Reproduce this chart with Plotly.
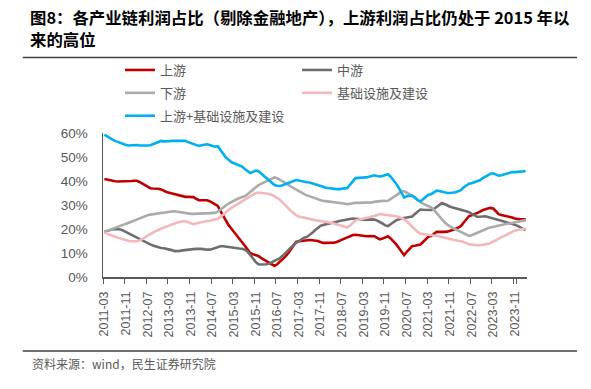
import plotly.graph_objects as go

# ---------------- data (monthly, 2011-03 .. 2024-03) ----------------
START_YEAR, START_MONTH, N_POINTS = 2011, 3, 157
months = []
y, m = START_YEAR, START_MONTH
for _ in range(N_POINTS):
    months.append(f"{y}-{m:02d}")
    m += 1
    if m > 12:
        m = 1
        y += 1

tick_labels = ["2011-03", "2011-11", "2012-07", "2013-03", "2013-11", "2014-07",
               "2015-03", "2015-11", "2016-07", "2017-03", "2017-11", "2018-07",
               "2019-03", "2019-11", "2020-07", "2021-03", "2021-11", "2022-07",
               "2023-03", "2023-11"]
y_ticks = [0, 10, 20, 30, 40, 50, 60]
y_tick_text = ["0%", "10%", "20%", "30%", "40%", "50%", "60%"]

upstream = [
    40.8, 40.5, 40.3, 40.0, 39.9, 39.8, 39.8, 39.7, 39.7, 39.8,
    40.0, 40.1, 40.1, 39.6, 39.0, 38.3, 37.6, 37.0, 36.9, 36.9, 36.8, 36.5,
    35.9, 35.4, 35.1, 34.8, 34.4, 34.1, 33.9, 33.7, 33.4, 33.4, 33.5, 33.3,
    32.6, 32.0, 32.0, 32.1, 32.0, 31.6, 30.9, 30.3, 29.6, 27.5, 25.5, 23.5,
    21.6, 20.2, 18.8, 17.5, 16.2, 14.8, 13.0, 11.5, 10.0, 9.5, 9.2, 8.8,
    8.0, 7.3, 6.6, 5.8, 5.0, 4.6, 5.3, 6.3, 7.4, 8.5, 9.8, 11.4,
    13.0, 14.6, 14.9, 15.1, 15.3, 15.3, 15.4, 15.3, 15.3, 15.0, 14.6, 14.2,
    14.2, 14.2, 14.2, 14.3, 14.6, 15.0, 15.5, 16.0, 16.5, 17.0, 17.5, 17.6,
    17.4, 17.2, 17.0, 17.0, 17.1, 17.2, 17.0, 16.3, 15.7, 16.0, 16.6, 17.0,
    16.1, 15.0, 13.7, 12.2, 10.6, 9.1, 10.5, 11.9, 12.9, 13.0, 13.2, 13.5,
    14.6, 15.8, 16.8, 17.1, 17.9, 18.8, 18.8, 18.7, 18.8, 18.9, 19.2, 19.5,
    20.0, 20.6, 21.2, 22.6, 24.0, 25.3, 25.7, 26.1, 26.5, 27.1, 27.8, 28.3,
    28.5, 28.8, 28.6, 27.4, 26.2, 25.8, 25.6, 25.3, 25.1, 24.8, 24.4, 24.1,
    24.0, 24.0, 24.0,
]

midstream = [
    18.8, 19.2, 19.6, 19.9, 20.0, 20.0, 19.8, 19.3, 18.7, 18.1,
    17.5, 17.0, 16.5, 16.0, 15.4, 14.8, 14.2, 13.6, 13.1, 12.7, 12.4, 12.1,
    12.0, 11.8, 11.6, 11.2, 10.8, 10.7, 10.9, 11.1, 11.3, 11.4, 11.5, 11.6,
    11.7, 11.8, 11.7, 11.5, 11.4, 11.4, 11.7, 12.1, 12.5, 12.8, 12.8, 12.6,
    12.4, 12.3, 12.2, 12.0, 11.9, 11.8, 11.4, 10.6, 9.4, 7.8, 6.3, 5.3,
    5.2, 5.2, 5.3, 5.6, 6.1, 6.7, 7.3, 7.9, 8.8, 10.0, 11.2, 12.3,
    13.3, 14.2, 15.0, 15.8, 16.4, 16.7, 17.4, 18.4, 19.5, 20.5, 21.3, 21.7,
    21.9, 22.1, 22.4, 22.7, 23.0, 23.3, 23.6, 23.7, 23.9, 24.2, 24.4, 24.3,
    24.1, 23.9, 23.8, 23.8, 24.0, 24.0, 23.9, 23.5, 23.0, 22.3, 21.5, 21.2,
    22.0, 22.9, 23.6, 24.0, 24.4, 24.6, 24.8, 25.0, 25.2, 26.3, 27.4, 28.1,
    28.0, 27.9, 27.8, 27.9, 28.3, 29.0, 30.0, 30.8, 30.5, 29.9, 29.3, 29.0,
    28.7, 28.5, 28.3, 27.9, 27.4, 27.0, 26.4, 25.7, 25.1, 25.1, 25.3, 25.3,
    25.0, 24.6, 24.3, 24.1, 23.8, 23.5, 23.2, 22.9, 22.6, 22.2, 21.8, 21.3,
    20.7, 20.1, 19.5,
]

downstream = [
    18.8, 19.2, 19.6, 19.9, 20.3, 20.7, 21.1, 21.6, 22.1, 22.6,
    23.0, 23.5, 24.0, 24.5, 24.9, 25.3, 25.7, 26.0, 26.2, 26.3, 26.4, 26.5,
    26.7, 26.9, 27.1, 27.3, 27.4, 27.2, 26.9, 26.6, 26.4, 26.3, 26.3, 26.3,
    26.3, 26.4, 26.5, 26.5, 26.6, 26.6, 26.7, 26.7, 27.2, 28.2, 29.0, 29.8,
    30.6, 31.3, 31.9, 32.4, 32.9, 33.2, 33.6, 34.5, 35.5, 36.5, 37.4, 38.2,
    38.8, 39.4, 40.0, 40.5, 41.0, 41.5, 41.2, 40.6, 40.0, 39.2, 38.5, 37.7,
    37.0, 36.3, 35.6, 35.0, 34.5, 34.0, 33.6, 33.1, 32.7, 32.3, 31.9, 31.7,
    31.6, 31.5, 31.3, 31.2, 31.1, 30.9, 30.7, 30.5, 30.3, 30.5, 30.8, 30.9,
    30.9, 30.9, 30.9, 30.9, 30.9, 31.1, 31.3, 31.5, 31.7, 31.7, 31.7, 31.8,
    32.5, 33.3, 34.1, 34.8, 35.5, 35.8, 35.2, 34.6, 34.0, 33.2, 32.2, 31.3,
    30.6, 30.0, 29.6, 29.0, 28.0, 26.7, 25.1, 23.9, 22.8, 21.8, 20.9, 20.4,
    19.9, 19.4, 18.8, 18.3, 17.8, 17.1, 17.4, 17.9, 18.5, 19.0, 19.5, 20.0,
    20.3, 20.6, 20.9, 21.2, 21.5, 21.9, 22.1, 22.2, 22.3, 22.5, 22.8, 23.1,
    23.3, 23.5, 23.7,
]

infrastructure = [
    18.5, 18.0, 17.5, 17.2, 16.8, 16.4, 16.0, 15.6, 15.3, 15.0,
    14.9, 14.8, 14.9, 15.2, 15.7, 16.4, 17.2, 17.9, 18.5, 19.1, 19.6, 20.2,
    20.6, 21.0, 21.5, 21.9, 22.3, 22.7, 23.0, 23.2, 23.3, 22.8, 22.3, 22.0,
    22.3, 22.6, 22.9, 23.1, 23.3, 23.4, 23.6, 24.0, 24.3, 25.0, 26.0, 27.0,
    27.9, 28.8, 29.5, 30.2, 30.8, 31.4, 32.2, 33.0, 33.8, 34.4, 34.9, 35.2,
    35.1, 35.0, 34.8, 34.6, 34.2, 33.7, 33.0, 32.2, 31.2, 30.0, 28.8, 27.6,
    26.6, 25.8, 25.2, 24.9, 24.6, 24.3, 24.1, 23.9, 23.7, 23.5, 23.4, 23.2,
    23.0, 22.8, 22.6, 22.3, 22.0, 21.6, 21.2, 20.9, 20.6, 21.5, 22.6, 23.6,
    23.9, 24.1, 24.3, 24.5, 24.7, 25.0, 25.4, 25.8, 26.2, 26.1, 26.0, 25.8,
    25.7, 25.5, 25.3, 25.0, 24.6, 24.0, 23.2, 22.0, 21.0, 20.0, 18.8, 18.0,
    17.8, 17.6, 17.5, 17.4, 17.3, 17.2, 17.0, 16.8, 16.5, 16.1, 15.8, 15.5,
    15.3, 15.1, 15.0, 14.7, 14.2, 13.6, 13.4, 13.3, 13.2, 13.2, 13.3, 13.5,
    13.8, 14.2, 14.6, 15.3, 16.0, 16.6, 17.2, 17.8, 18.4, 18.9, 19.3, 19.6,
    19.8, 20.0, 20.2,
]

upstream_plus_infra = [
    59.3, 58.5, 57.8, 57.2, 56.7, 56.2, 55.8, 55.3, 55.0, 54.8,
    54.9, 54.9, 55.0, 54.8, 54.7, 54.7, 54.8, 54.9, 55.4, 56.0, 56.4, 56.7,
    56.5, 56.4, 56.6, 56.7, 56.7, 56.8, 56.9, 56.9, 56.7, 56.2, 55.8, 55.3,
    54.9, 54.6, 54.9, 55.2, 55.3, 55.0, 54.5, 54.3, 54.5, 53.0, 51.0, 49.8,
    48.9, 47.9, 47.4, 47.0, 46.5, 46.0, 45.0, 44.0, 43.3, 43.8, 44.3, 44.2,
    43.2, 42.2, 41.3, 40.2, 39.0, 38.3, 38.0, 37.9, 38.2, 38.6, 39.0, 39.5,
    40.0, 40.4, 40.2, 39.9, 39.7, 39.5, 39.4, 39.1, 38.7, 38.3, 38.0, 37.6,
    37.2, 37.0, 36.8, 36.6, 36.6, 36.6, 36.7, 36.9, 37.1, 38.5, 40.1, 41.2,
    41.3, 41.3, 41.3, 41.5, 41.8, 42.2, 42.4, 42.1, 41.9, 42.1, 42.6, 42.8,
    41.8, 40.5, 39.0, 37.2, 35.2, 33.1, 33.7, 33.9, 33.9, 33.0, 32.0, 31.5,
    32.4, 33.4, 34.3, 34.5, 35.2, 36.0, 35.8, 35.5, 35.3, 35.0, 35.0, 35.0,
    35.3, 35.7, 36.2, 37.3, 38.2, 38.9, 39.1, 39.4, 39.7, 40.3, 41.1, 41.8,
    42.3, 43.0, 43.2, 42.7, 42.2, 42.4, 42.8, 43.1, 43.5, 43.7, 43.7, 43.7,
    43.8, 44.0, 44.2,
]

series = [
    ("上游", upstream, "#C00000", "legend"),
    ("中游", midstream, "#6E6E6E", "legend2"),
    ("下游", downstream, "#ABABAB", "legend"),
    ("基础设施及建设", infrastructure, "#F2B8BC", "legend2"),
    ("上游+基础设施及建设", upstream_plus_infra, "#00B0F0", "legend"),
]

TITLE_LINE1 = "图8：各产业链利润占比（剔除金融地产），上游利润占比仍处于 2015 年以"
TITLE_LINE2 = "来的高位"
SOURCE = "资料来源：wind，民生证券研究院"

# ---------------- layout geometry (pixels) ----------------
W, H = 591, 389
ML, MR, MT, MB = 103, 64, 133, 112
PL, PR, PT, PB = ML, W - MR, MT, H - MB
AXIS_COLOR = "#595959"
TEXT_COLOR = "#595959"
LATIN = "Liberation Sans, Arial, Noto Sans CJK SC, sans-serif"
CJK = "Noto Sans CJK SC, Microsoft YaHei, sans-serif"


def px_x(px):
    return (px - PL) / (PR - PL)


def px_y(py):
    return (PB - py) / (PB - PT)


fig = go.Figure()
for i, (name, vals, color, leg) in enumerate(series):
    fig.add_trace(go.Scatter(
        x=months, y=vals, mode="lines", name=name,
        line=dict(color=color, width=2.6),
        legend=leg, legendgroup=f"g{i}",
        hoverinfo="skip",
    ))

legend_common = dict(
    orientation="v", xref="container", yref="container",
    xanchor="left", yanchor="top",
    bgcolor="rgba(0,0,0,0)", borderwidth=0,
    font=dict(family=CJK, size=13, color=TEXT_COLOR),
    tracegroupgap=3,
)

title_font = dict(family=CJK, size=16.4, color="#000000", weight="bold")

fig.update_layout(
    template="none",
    width=W, height=H, autosize=False,
    paper_bgcolor="white", plot_bgcolor="white",
    margin=dict(l=ML, r=MR, t=MT, b=MB, pad=0, autoexpand=False),
    showlegend=True,
    legend=dict(x=120 / W, y=1 - 55 / H, **legend_common),
    legend2=dict(x=297 / W, y=1 - 55 / H, **legend_common),
    xaxis=dict(
        type="category", categoryorder="array", categoryarray=months,
        range=[-0.5, N_POINTS - 0.5], automargin=False,
        tickmode="array", tickvals=tick_labels, ticktext=tick_labels,
        tickson="boundaries", ticks="outside", ticklen=5, tickwidth=1,
        tickcolor=AXIS_COLOR, tickangle=-90,
        tickfont=dict(family=LATIN, size=12.5, color=TEXT_COLOR),
        ticklabelstandoff=8,
        showline=True, linecolor=AXIS_COLOR, linewidth=1.5,
        showgrid=False, zeroline=False, fixedrange=True,
    ),
    yaxis=dict(
        range=[0, 60], tickmode="array", tickvals=y_ticks, ticktext=y_tick_text,
        automargin=False, ticks="",
        tickfont=dict(family=LATIN, size=13.5, color=TEXT_COLOR),
        ticklabelstandoff=11,
        showline=True, linecolor=AXIS_COLOR, linewidth=1.5,
        showgrid=False, zeroline=False, fixedrange=True,
    ),
    annotations=[
        dict(text=TITLE_LINE1, xref="paper", yref="paper",
             x=px_x(28), y=px_y(17), xanchor="left", yanchor="middle",
             align="left", showarrow=False, font=title_font),
        dict(text=TITLE_LINE2, xref="paper", yref="paper",
             x=px_x(28), y=px_y(38.5), xanchor="left", yanchor="middle",
             align="left", showarrow=False, font=title_font),
        dict(text=SOURCE, xref="paper", yref="paper",
             x=px_x(30), y=px_y(363.3), xanchor="left", yanchor="middle",
             align="left", showarrow=False,
             font=dict(family=CJK, size=12, color=TEXT_COLOR)),
    ],
    shapes=[
        dict(type="line", xref="paper", yref="paper",
             x0=px_x(22.7), x1=px_x(577), y0=px_y(57.5), y1=px_y(57.5),
             line=dict(color="#404040", width=1.5)),
        dict(type="line", xref="paper", yref="paper",
             x0=px_x(22.7), x1=px_x(577), y0=px_y(351), y1=px_y(351),
             line=dict(color="#404040", width=1.5)),
    ],
)

fig.write_html("out.html", config={"displayModeBar": False, "staticPlot": True},
               post_script="document.body.style.margin='0';")
